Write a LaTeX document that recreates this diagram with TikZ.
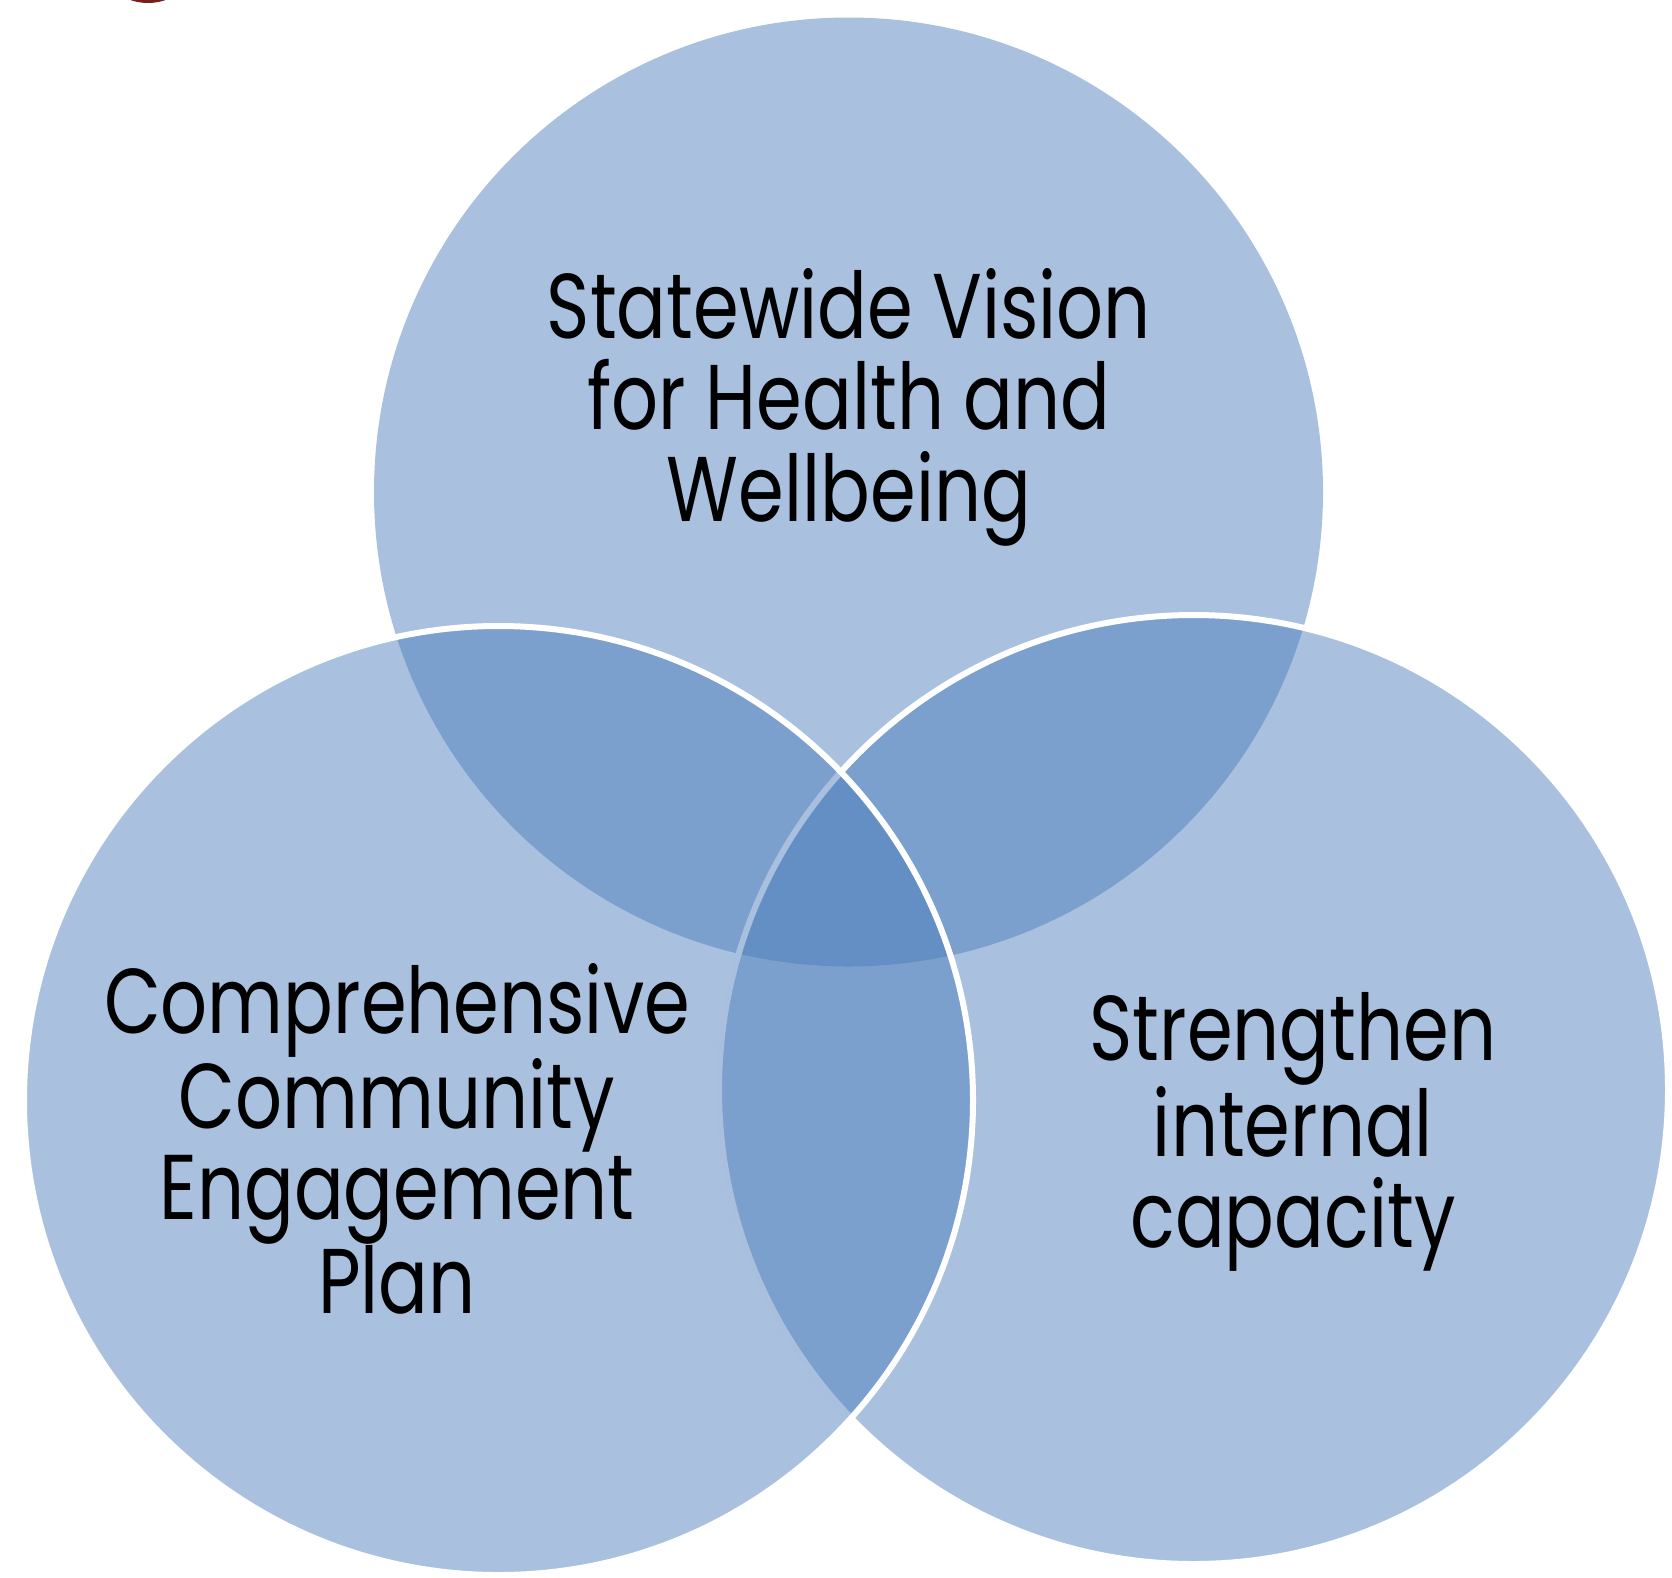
\documentclass[tikz,border=0pt]{standalone}
\usepackage{fontspec}
\setmainfont[FakeStretch=0.8]{Poppins}
\definecolor{bleuvenn}{RGB}{75,125,187}
\definecolor{rougecoin}{RGB}{122,30,28}

\begin{document}
\begin{tikzpicture}[x=1pt,y=-1pt]
\tikzset{cercle/.style={circle, fill=bleuvenn, fill opacity=0.48, minimum size=949pt, inner sep=0pt},
  bord/.style={draw=white, line width=6pt},
  etiquette/.style={align=center, font=\fontsize{92}{91.5}\selectfont, text=black, inner sep=0pt}}
\useasboundingbox (0,0) rectangle (1672,1577);
\clip (0,0) rectangle (1672,1577);
\fill[rougecoin] (148,-50) circle (53);
% the three circles
\node[cercle] (haut) at (848.5,492) {};
\node[cercle, bord] (droite) at (1193.5,1089.5) {};
\node[cercle, bord] (gauche) at (498.5,1100.5) {};
% labels
\node[etiquette] (vision) at (849,407) {Statewide Vision\\for Health and\\Wellbeing};
\node[etiquette] (plan) at (397,1139) {Comprehensive\\Community\\Engagement\\Plan};
\node[etiquette] (interne) at (1293,1132) {Strengthen\\internal\\capacity};
\end{tikzpicture}
\end{document}
